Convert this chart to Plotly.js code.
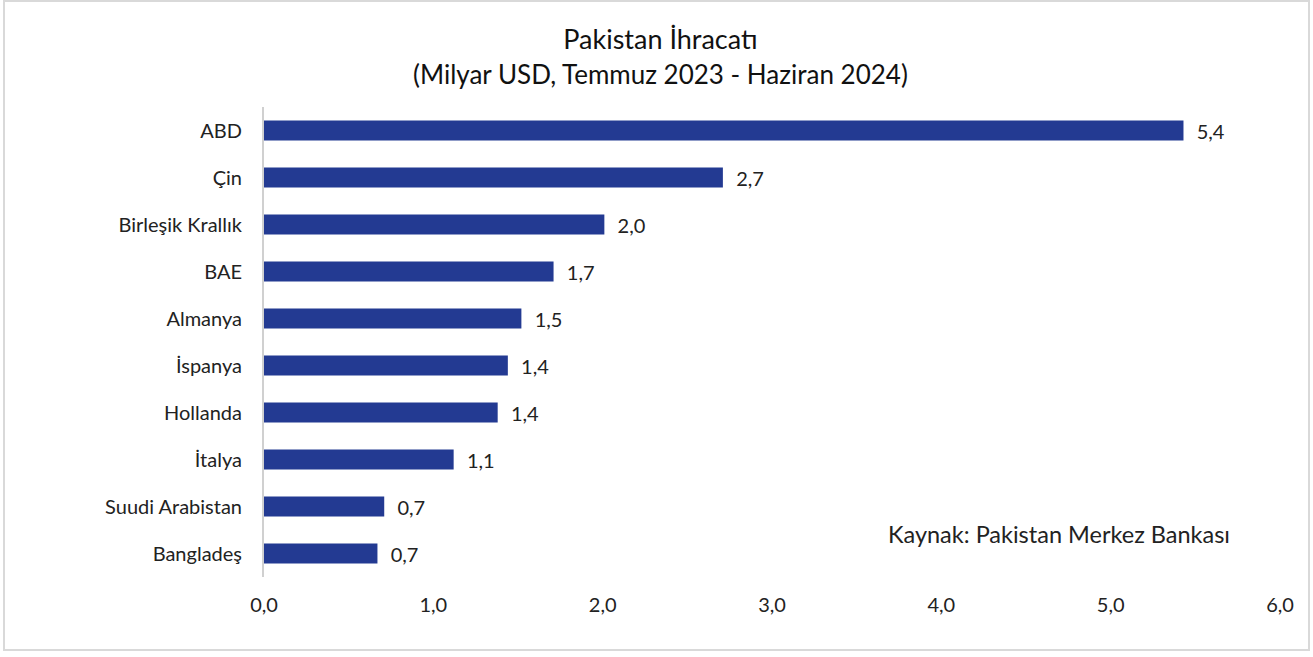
<!DOCTYPE html>
<html>
<head>
<meta charset="utf-8">
<script src="https://cdn.plot.ly/plotly-3.0.1.min.js"></script>
<style>
  html, body { margin: 0; padding: 0; background: #fff; }
  #wrap { position: relative; width: 1313px; height: 657px; }
  #chart { width: 1313px; height: 657px; }
  #frame { position: absolute; left: 3px; top: 0px; width: 1307px; height: 651px;
           border: 2px solid #d9d9d9; box-sizing: border-box; pointer-events: none; }
</style>
</head>
<body>
<div id="wrap">
  <div id="chart"></div>
  <div id="frame"></div>
</div>
<script>
const categories = ["ABD", "Çin", "Birleşik Krallık", "BAE", "Almanya", "İspanya", "Hollanda", "İtalya", "Suudi Arabistan", "Bangladeş"];
const values = [5.43, 2.71, 2.01, 1.71, 1.52, 1.44, 1.38, 1.12, 0.71, 0.67];
const xTickValues = [0, 1, 2, 3, 4, 5, 6];
const titleText = "Pakistan İhracatı";
const subtitleText = "(Milyar USD, Temmuz 2023 - Haziran 2024)";
const sourceText = "Kaynak: Pakistan Merkez Bankası";

const FONT = "Lato, 'Open Sans', sans-serif";

const trace = {
  type: "bar",
  orientation: "h",
  x: values,
  y: categories,
  marker: { color: "#233A92" },
  texttemplate: "\u00a0\u00a0%{x:.1f}",
  textposition: "outside",
  constraintext: "none",
  textfont: { family: FONT, size: 20, color: "#222" },
  cliponaxis: false,
  hoverinfo: "x+y"
};

const layout = {
  width: 1313,
  height: 657,
  separators: ", ",
  paper_bgcolor: "#ffffff",
  plot_bgcolor: "#ffffff",
  margin: { l: 264, r: 33, t: 107, b: 80 },
  bargap: 0.57,
  showlegend: false,
  font: { family: FONT, size: 20, color: "#222" },
  title: {
    text: titleText,
    font: { family: FONT, size: 27, color: "#111" },
    x: 0.503, xref: "container", xanchor: "center",
    y: 0.94, yref: "container", yanchor: "middle"
  },
  xaxis: {
    range: [0, 6],
    tickvals: xTickValues,
    tickformat: ".1f",
    showgrid: false,
    zeroline: false,
    showline: false,
    ticks: "",
    ticklabelstandoff: 14,
    tickfont: { family: FONT, size: 20, color: "#222" },
    fixedrange: true
  },
  yaxis: {
    type: "category",
    autorange: "reversed",
    showgrid: false,
    zeroline: false,
    showline: true,
    linecolor: "#d0d0d0",
    linewidth: 2,
    ticks: "",
    ticklabelstandoff: 16,
    tickfont: { family: FONT, size: 20, color: "#222" },
    fixedrange: true
  },
  annotations: [
    {
      text: subtitleText,
      xref: "paper", yref: "paper",
      x: 0.39, y: 1.07, xanchor: "center", yanchor: "middle",
      showarrow: false,
      font: { family: FONT, size: 26, color: "#111" }
    },
    {
      text: sourceText,
      xref: "paper", yref: "paper",
      x: 0.953, y: 0.091, xanchor: "right", yanchor: "middle",
      showarrow: false,
      font: { family: FONT, size: 23.5, color: "#222" }
    }
  ]
};

Plotly.newPlot("chart", [trace], layout, { displayModeBar: false, staticPlot: true });
</script>
</body>
</html>
